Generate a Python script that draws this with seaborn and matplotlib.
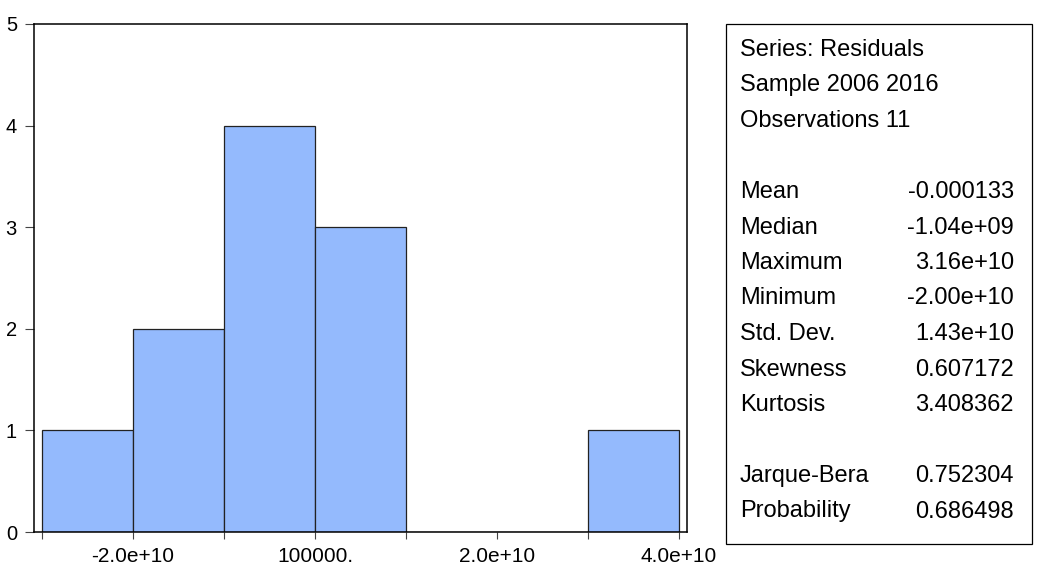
import matplotlib
matplotlib.use("Agg")
import matplotlib.pyplot as plt
import matplotlib.ticker as mticker
from matplotlib.patches import Rectangle
import numpy as np
import pandas as pd
import seaborn as sns

# ---- data ----
bin_edges = [-3.0e10, -2.0e10, -1.0e10, 0.0, 1.0e10, 2.0e10, 3.0e10, 4.0e10]
counts = [1, 2, 4, 3, 0, 0, 1]
x_tick_values = [-3.0e10, -2.0e10, -1.0e10, 0.0, 1.0e10, 2.0e10, 3.0e10, 4.0e10]
x_tick_labels = ["", "-2.0e+10", "", "100000.", "", "2.0e+10", "", "4.0e+10"]
y_tick_values = [0, 1, 2, 3, 4, 5]

header_lines = ["Series: Residuals", "Sample 2006 2016", "Observations 11"]
stat_names = ["Mean", "Median", "Maximum", "Minimum", "Std. Dev.", "Skewness", "Kurtosis"]
stat_values = ["-0.000133", "-1.04e+09", "3.16e+10", "-2.00e+10", "1.43e+10", "0.607172", "3.408362"]
test_names = ["Jarque-Bera", "Probability"]
test_values = ["0.752304", "0.686498"]

# ---- style ----
sns.set_theme(style="white")
plt.rcParams["font.family"] = ["Liberation Sans", "DejaVu Sans"]

W, H = 1044, 568
fig = plt.figure(figsize=(W / 100, H / 100), dpi=100)
fig.patch.set_facecolor("white")

ax_l, ax_r, ax_t, ax_b = 34, 687, 24, 532
ax = fig.add_axes([ax_l / W, 1 - ax_b / H, (ax_r - ax_l) / W, (ax_b - ax_t) / H])

centers = [(a + b) / 2 for a, b in zip(bin_edges[:-1], bin_edges[1:])]
df = pd.DataFrame({"resid": centers, "n": counts})
sns.histplot(data=df, x="resid", weights="n", bins=bin_edges, ax=ax,
             color="#94BAFD", alpha=1.0, edgecolor="#222222", linewidth=0.9)

margin = 8 / 91 * 1.0e10
ax.set_xlim(bin_edges[0] - margin, bin_edges[-1] + margin)
ax.set_ylim(0, 5)
ax.set_xlabel("")
ax.set_ylabel("")
ax.grid(False)

ax.xaxis.set_major_locator(mticker.FixedLocator(x_tick_values))
ax.set_xticklabels(x_tick_labels)
ax.yaxis.set_major_locator(mticker.FixedLocator(y_tick_values))
ax.set_yticklabels([str(v) for v in y_tick_values])

ax.tick_params(axis="x", which="major", direction="out", length=4.8, width=0.8,
               color="#444444", pad=6, labelsize=15, labelcolor="black", bottom=True)
ax.tick_params(axis="y", which="major", direction="out", length=6.5, width=0.8,
               color="#444444", pad=5.8, labelsize=14.5, labelcolor="black", left=True)

for s in ax.spines.values():
    s.set_visible(True)
    s.set_color("black")
    s.set_linewidth(1.1)

# ---- statistics box ----
box_l, box_r, box_t, box_b = 726, 1032, 24, 544
fig.add_artist(Rectangle((box_l / W, 1 - box_b / H), (box_r - box_l) / W, (box_b - box_t) / H,
                         transform=fig.transFigure, fill=False, edgecolor="black", linewidth=0.9))

lx, rx = 740, 1014
y0, step = 50, 35.5
fs = 17

def put(row, left, right=None):
    y = y0 + row * step
    fig.text(lx / W, 1 - y / H, left, ha="left", va="center", fontsize=fs, color="black")
    if right is not None:
        fig.text(rx / W, 1 - y / H, right, ha="right", va="center", fontsize=fs, color="black")

row = 0
for t in header_lines:
    put(row, t)
    row += 1
row += 1
for n, v in zip(stat_names, stat_values):
    put(row, n, v)
    row += 1
row += 1
for n, v in zip(test_names, test_values):
    put(row, n, v)
    row += 1

fig.savefig("out.png", dpi=100, facecolor="white")
